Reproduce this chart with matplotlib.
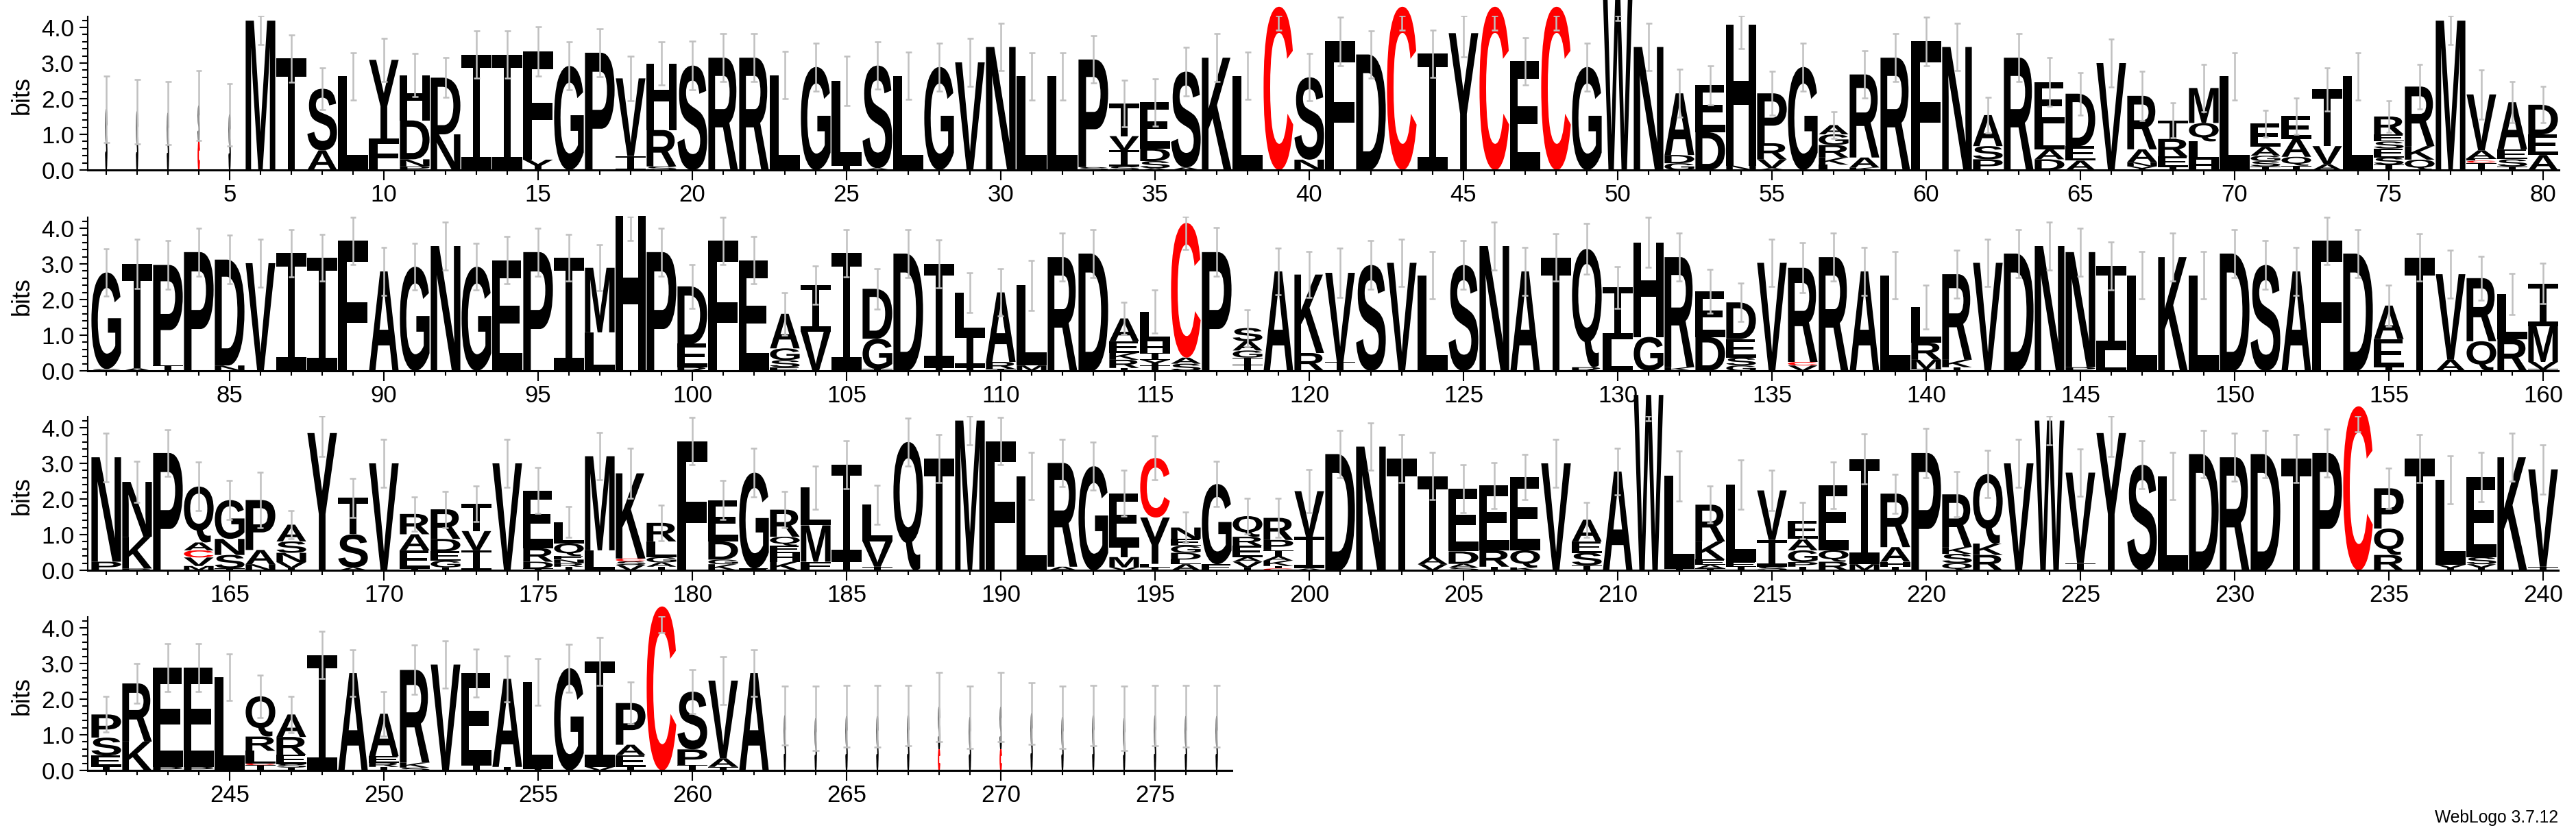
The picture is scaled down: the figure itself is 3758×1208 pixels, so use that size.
import matplotlib
matplotlib.use("Agg")
import matplotlib.pyplot as plt
from matplotlib.textpath import TextPath
from matplotlib.font_manager import FontProperties
from matplotlib.patches import PathPatch
from matplotlib.transforms import Affine2D
from matplotlib.ticker import MultipleLocator, FormatStrFormatter

# each column: letters bottom -> top, "<letter><height in bits>"
row1_stacks = [
    "S1.7", "S1.64", "S1.6", "C.8 S1.0", "S1.55",
    "M4.19", "T3.13", "A.55 S1.73", "L2.63", "F.88 Y2.21",
    "P.1 N.2 D1.09 H1.27", "N1.0 D1.59", "I3.24", "I3.24", "Y.29 F3.03",
    "G2.92", "P3.29", "I.39 V2.18", "S.1 R1.02 H1.87", "S2.93",
    # 21
    "R3.15", "R3.15", "L2.66", "G2.89", "I.12 L2.38",
    "A.05 S2.88", "L2.64", "G2.89", "V3.02", "N3.45",
    # 31
    "L2.63", "L2.63", "S.08 P3.02", "S.1 I.45 V.4 T.92", "A.05 S.2 D.35 E1.3",
    "A.07 S2.69", "K3.15", "L2.64", "C4.58", "N.29 S2.31",
    # 41
    "F3.61", "D3.24", "C4.58", "I3.26", "Y3.84",
    "C4.58", "E3.05", "C4.58", "G2.89", "W4.9",
    # 51
    "N3.45", "G.19 D.23 A1.73", "D1.06 E1.32", "N.12 H3.96", "A.05 V.25 R.45 P1.4",
    "G2.89", "L.15 K.2 R.35 G.3 A.26", "K.07 A.28 R2.33", "R3.15", "F3.61",
    # 61
    "N3.45", "P.3 S.37 A.87", "R3.15", "D.3 A.28 L.72 E1.17", "A.26 E.41 D1.47",
    "V3.0", "Y.1 N.12 A.36 R1.5", "I.08 E.3 R.49 T.52", "H.29 L.51 Q.52 M.98", "L2.63",
    # 71
    "T.1 S.15 G.15 A.25 E.65", "T.12 Q.25 A.5 E.64", "A.16 V.51 T1.59", "L2.63",
    "T.15 S.2 E.25 S.2 E.2 R.5",
    "Q.29 K.38 R1.67", "M4.19", "T.2 C.06 F.06 A.23 V1.57", "T.1 S.2 E.28 A1.32", "A.42 E.58 D.83",
]
row1_err = [
    .93, .9, .88, .98, .87, .68, .66, .59, .66, .6,
    .6, .56, .67, .67, .69, .67, .67, .63, .61, .68,
    .67, .67, .66, .67, .69, .67, .66, .67, .67, .67,
    .66, .66, .66, .65, .66, .68, .67, .66, .66, .66,
    .68, .67, .66, .67, .66, .66, .67, .66, .67, .7,
    .67, .67, .55, .68, .61, .67, .37, .67, .67, .68,
    .67, .5, .67, .68, .6, .68, .69, .49, .67, .66,
    .37, .51, .61, .66, .45, .63, .68, .69, .58, .51,
]

row2_stacks = [
    "S.05 G2.71", "A.07 T2.93", "T.15 P2.82", "P3.33", "N.15 D2.97",
    "V3.02", "I3.3", "I3.17", "F3.65", "A2.79",
    # 91
    "G2.92", "N3.5", "G2.92", "E3.1", "P3.33",
    "I3.17", "L1.08 M1.81", "H4.34", "P3.33", "R.1 E.66 D1.61",
    # 101
    "F3.65", "E3.1", "E.1 S.2 G.33 A.97", "V1.1 I1.31", "I3.3",
    "I.05 G.85 D1.4", "D3.29", "T.1 I2.9", "T.1 I.93 L1.16", "I.05 R.2 A1.95",
    # 111
    "M.15 L2.25", "R3.19", "D3.29", "I.08 R.23 K.19 E.33 A.64", "I.15 Y.16 I.19 H.33 L.83",
    "S.2 A.17 C3.78", "P3.33", "I.18 T.19 G.2 A.26 S.37", "A2.79", "R.5 K2.2",
    # 121
    "I.25 V2.5", "S2.97", "V3.03", "L2.68", "S2.97",
    "N3.5", "A2.79", "T3.18", "R.1 Q3.32", "L.89 I1.45",
    # 131
    "G.95 H2.65", "K.1 R3.09", "D.95 E1.28", "G.15 S.22 E.52 D1.03", "V3.03",
    "V.15 C.1 R2.64", "R3.19", "A2.79", "L2.68", "I.05 M.26 R.48 L1.0",
    # 141
    "I.1 K.21 R2.4", "V3.03", "D3.29", "N3.5", "P.1 N3.23",
    "L.57 I2.37", "L2.68", "K3.19", "L2.68", "D3.29",
    # 151
    "S2.97", "A2.79", "F3.65", "D3.29", "I.1 E.79 A.94",
    "T3.18", "A.31 V2.4", "Q.83 R1.77", "R.89 L1.26", "I.05 V.2 M1.0 I1.2",
]
row2_err = [
    .67, .69, .69, .67, .68, .67, .67, .66, .66, .67,
    .66, .67, .66, .66, .67, .66, .64, .68, .67, .62,
    .66, .66, .6, .54, .67, .57, .67, .67, .56, .67,
    .7, .67, .67, .45, .6, .74, .68, .52, .66, .64,
    .7, .68, .67, .67, .68, .67, .67, .67, .71, .59,
    .7, .67, .62, .54, .67, .7, .67, .67, .67, .62,
    .67, .67, .67, .67, .67, .67, .67, .67, .67, .67,
    .68, .67, .66, .67, .58, .67, .67, .62, .58, .57,
]

row3_stacks = [
    "P.24 N2.93", "R.05 K.89 N1.54", "P3.29", "M.12 V.24 C.2 A.22 Q1.57", "I.05 S.38 N.45 G1.09",
    "N.17 A.4 P1.4", "I.06 V.17 N.26 S.32 A.47", "Y3.85", "A.08 S.93 T1.02", "V3.0",
    # 171
    "I.05 E.51 A.45 R.57", "I.08 G.19 E.26 D.35 R.83", "I.56 V.54 T.77", "V3.0", "I.05 D.19 R.38 E1.62",
    "I.1 R.1 N.1 E.1 Q.35 L.6", "L.56 M2.64", "V.15 S.1 C.08 K2.39", "I.1 A.12 G.15 L.44 R.52", "F3.62",
    # 181
    "K.17 G.13 D.51 E1.16", "E.05 G2.69", "K.24 H.25 E.2 Q.25 R.76", "F.24 M1.02 L1.06", "T.28 I2.68",
    "T.1 V.71 L1.03", "Q3.6", "T3.14", "M4.2", "F3.62",
    # 191
    "L2.64", "A.1 R2.91", "G2.92", "V.08 M.29 T.32 E1.47", "T.1 F.08 Y1.3 C1.67",
    "A.17 L.13 D.19 G.2 E.19 N.32", "E.17 G2.25", "I.08 V.16 A.13 E.32 R.25 Q.58",
    "C.05 T.07 K.15 A.12 T.17 P.29 R.62", "A.05 I.89 V1.28",
    # 201
    "D3.26", "N3.47", "T3.14", "V.17 A.2 T2.27", "S.08 A.1 D.35 E1.76",
    "I.1 R.46 E1.82", "K.08 Q.48 E2.06", "V3.0", "T.14 S.35 E.32 A.61", "A2.77",
    # 211
    "W4.92", "I.05 L2.6", "I.05 A.1 E.15 K.51 R1.03", "I.1 E.14 L2.17", "S.1 I.75 V1.39",
    "I.1 P.13 G.33 A.32 E.51", "R.24 Q.32 E1.82", "M.17 I2.95", "I.1 H.14 A.41 R1.5", "P3.29",
    # 221
    "Q.2 S.26 K.19 R1.48", "R.43 K.32 Q1.95", "V3.0", "W4.2", "I.2 V2.54",
    "Y3.85", "S2.96", "L2.64", "D3.26", "R3.17",
    # 231
    "D3.26", "T3.14", "P3.29", "C4.6", "R.43 Q.74 P1.13",
    "T3.14", "Y.15 L2.39", "Y.17 S.2 E2.24", "K3.17", "T.1 V2.73",
]
row3_err = [
    .68, .57, .66, .68, .54, .78, .39, .66, .55, .67,
    .48, .51, .5, .67, .64, .43, .66, .7, .5, .66,
    .55, .68, .51, .6, .68, .55, .67, .67, .68, .66,
    .66, .67, .67, .65, .61, .43, .64, .5, .55, .6,
    .67, .67, .67, .66, .67, .64, .63, .68, .49, .66,
    .72, .7, .52, .69, .56, .51, .65, .7, .55, .69,
    .63, .66, .67, .68, .66, .66, .67, .66, .67, .67,
    .67, .67, .68, .71, .56, .67, .68, .69, .67, .69,
]

row4_stacks = [
    "T.12 E.3 S.5 P.65", "K.81 R1.63", "P.1 E2.78", "P.1 E2.78", "L2.62",
    "I.15 C.05 L.35 R.4 Q1.13", "I.08 S.1 E.26 R.5 A.63", "I3.24", "A2.73", "I.1 R.12 E.18 A1.19",
    # 251
    "S.08 K.14 R2.6", "V2.97", "I.15 E2.58", "I.1 A2.47", "I.05 L2.43",
    "G2.87", "V.1 I2.96", "I.1 E.33 A.29 P1.17", "C4.6", "T.15 P.44 S1.62",
    # 261
    "T.1 A.24 V2.18", "A2.73", "S1.54", "S1.46", "S1.52",
    "S1.52", "S1.54", "C.6 S1.18", "S1.49", "C.6 S1.18",
    # 271
    "S1.6", "S1.49", "S1.54", "S1.46", "S1.54", "S1.52", "S1.52",
]
row4_err = [
    .5, .56, .67, .67, .65, .6, .51, .66, .66, .62,
    .69, .66, .68, .65, .66, .67, .67, .59, .73, .62,
    .67, .65, .82, .9, .86, .86, .85, .97, .87, .97,
    .86, .87, .85, .9, .85, .86, .86,
]

# columns that are mostly gaps, drawn very narrow
gap_columns = [1, 2, 3, 4, 5] + list(range(263, 278))

rows = [(row1_stacks, row1_err, 1), (row2_stacks, row2_err, 81),
        (row3_stacks, row3_err, 161), (row4_stacks, row4_err, 241)]

W, H = 3758.0, 1208.0
BIT = 52.0          # px per bit
YMAX = 4.32
PPOS = 45.0         # px per position
LEFT = 128.0
baselines = [248, 541, 832, 1124]

sans_bold = FontProperties(family=["Liberation Sans", "DejaVu Sans"], weight="bold")
mono = FontProperties(family=["DejaVu Sans Mono"], weight="normal")
label_font = ["Liberation Sans", "DejaVu Sans"]

glyphs = {}


def glyph(ch):
    if ch not in glyphs:
        fp = mono if ch == "I" else sans_bold
        p = TextPath((0, 0), ch, size=100, prop=fp)
        glyphs[ch] = (p, p.get_extents())
    return glyphs[ch]


def put_letter(ax, ch, xc, y0, w, h, thin=False):
    p, bb = glyph(ch)
    t = (Affine2D().translate(-bb.x0, -bb.y0)
         .scale(w / bb.width, h / bb.height)
         .translate(xc - w / 2, y0))
    col = "#ff0000" if ch == "C" else "black"
    ax.add_patch(PathPatch(t.transform_path(p), fc=col, ec=col if thin else "none",
                           lw=1.0 if thin else 0, clip_on=False, zorder=2))


fig = plt.figure(figsize=(W / 100, H / 100), dpi=100)

for r, (stacks, errs, first) in enumerate(rows):
    last = first + len(stacks) - 1
    lo, hi = first - 0.6, last + 0.5
    axw = (hi - lo) * PPOS
    ax = fig.add_axes([LEFT / W, 1 - baselines[r] / H, axw / W, YMAX * BIT / H])
    ax.set_xlim(lo, hi)
    ax.set_ylim(0, YMAX)

    for i, s in enumerate(stacks):
        pos = first + i
        thin = pos in gap_columns
        w = 0.04 if thin else 0.96
        y = 0.0
        for tok in s.split():
            h = float(tok[1:])
            put_letter(ax, tok[0], pos, y, w, h, thin)
            y += h
        e = errs[i]
        elo, ehi = y - e, min(y + e, YMAX)
        ax.vlines(pos, elo, ehi, color="#c0c0c0", lw=1.8, zorder=3)
        ax.hlines([elo, ehi], pos - 0.1, pos + 0.1, color="#c0c0c0", lw=1.8, zorder=3)

    for sp in ("top", "right"):
        ax.spines[sp].set_visible(False)
    ax.spines["bottom"].set_linewidth(2.2)
    ax.spines["left"].set_linewidth(1.5)
    ax.spines["left"].set_bounds(0, 4.3)

    ax.xaxis.set_major_locator(MultipleLocator(5))
    ax.xaxis.set_minor_locator(MultipleLocator(1))
    ax.yaxis.set_major_locator(MultipleLocator(1))
    ax.yaxis.set_minor_locator(MultipleLocator(0.2))
    ax.yaxis.set_major_formatter(FormatStrFormatter("%.1f"))
    ax.tick_params(axis="x", which="major", length=10.8, width=1.5, pad=3.6, labelsize=25)
    ax.tick_params(axis="x", which="minor", length=5, width=1.5)
    ax.tick_params(axis="y", which="major", length=8.6, width=1.5, pad=5.5, labelsize=25)
    ax.tick_params(axis="y", which="minor", length=6, width=1.5)
    for lab in ax.get_xticklabels() + ax.get_yticklabels():
        lab.set_family(label_font)

    ax.set_ylabel("bits", fontsize=26, family=label_font)
    ax.yaxis.set_label_coords(-(LEFT - 50) / axw, 2.1 / YMAX)
    ax.patch.set_alpha(0)

fig.text(3732 / W, 1 - 1200 / H, "WebLogo 3.7.12", ha="right", va="baseline",
         fontsize=17.7, family=label_font)

fig.savefig("out.png", dpi=100, facecolor="white")
